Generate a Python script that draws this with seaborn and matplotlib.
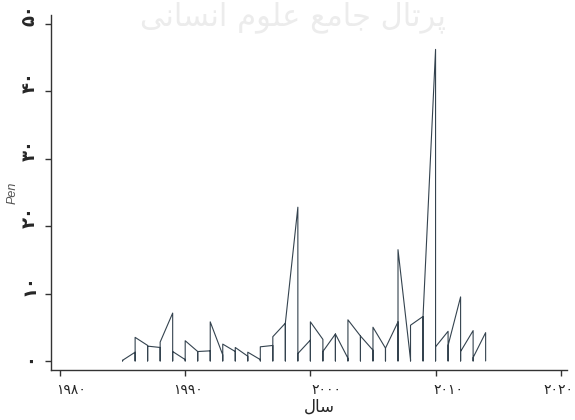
import numpy as np
import pandas as pd
import matplotlib
matplotlib.use('Agg')
import matplotlib.pyplot as plt
import seaborn as sns
from matplotlib.transforms import ScaledTranslation

# values (line passes in -> 0 -> out at each year)
years = list(range(1985, 2015))
pen_in = [0.1, 1.3, 2.3, 2.0, 7.1, 0.2, 1.4, 1.5, 0.9, 1.4, 0.7, 0.2, 2.3, 5.6, 22.8,
          3.1, 3.2, 4.0, 0.4, 3.7, 1.6, 1.9, 5.8, 0.2, 6.6, 46.2, 4.4, 9.5, 4.5, 4.2]
pen_out = [0.1, 3.5, 2.2, 2.8, 1.4, 3.0, 1.4, 5.8, 2.5, 2.0, 1.3, 2.1, 3.6, 5.6, 1.1,
           5.8, 1.4, 4.0, 6.1, 3.7, 5.0, 1.9, 16.5, 5.3, 6.6, 2.1, 2.3, 1.4, 0.5, 0.0]
x_ticks = [1980, 1990, 2000, 2010, 2020]
y_ticks = [0, 10, 20, 30, 40, 50]

# Arabic text in shaped, visual order (matplotlib does no shaping)
x_label = '\uFEDD\uFE8E\uFEB3'  # سال
watermark = 'پرتال جامع علوم انسانی'
wm_shaped = ('\uFB58\uFEAE\uFE97\uFE8E\uFEDD' + ' ' +
             '\uFE9F\uFE8E\uFEE3\uFECA' + ' ' +
             '\uFECB\uFEE0\uFEEE\uFEE1' + ' ' +
             '\uFE8D\uFEE7\uFEB4\uFE8E\uFEE7\uFBFD')[::-1]

fa = str.maketrans('0123456789', '۰۱۲۳۴۵۶۷۸۹')

rows = []
for y, a, b in zip(years, pen_in, pen_out):
    rows += [(y, a), (y, 0.0), (y, b)]
df = pd.DataFrame(rows, columns=['year', 'pen'])

sns.set_style('ticks')
plt.rcParams['font.family'] = ['DejaVu Sans']

fig = plt.figure(figsize=(5.75, 4.2), dpi=100)
ax = fig.add_axes([51 / 575, 50 / 420, 516 / 575, 355 / 420])

# faint scan watermark along the top edge
fig.text(0.51, 1 - 1 / 420, wm_shaped, fontsize=22, color='#ececec',
         ha='center', va='top', zorder=0)

sns.lineplot(data=df, x='year', y='pen', sort=False, estimator=None,
             color='#34434f', linewidth=0.8, ax=ax)

ax.set_xlim(1979.28, 2020.5)
ax.set_ylim(-1.34, 51.3)
ax.patch.set_alpha(0)
for s in ['top', 'right']:
    ax.spines[s].set_visible(False)
for s in ['left', 'bottom']:
    ax.spines[s].set_color('#333333')
    ax.spines[s].set_linewidth(1.0)
ax.tick_params(length=4, width=1, color='#333333')

ax.set_xticks(x_ticks, labels=[str(t).translate(fa) for t in x_ticks], fontsize=10)
ax.set_yticks(y_ticks, labels=[str(t).translate(fa) for t in y_ticks], fontsize=13,
              fontweight='bold', rotation=90, va='bottom')
ax.tick_params(axis='y', pad=5)
ax.tick_params(axis='x', pad=5)
x_shift = [11, 3, 16, 13, -2]
for lab, dx in zip(ax.get_xticklabels(), x_shift):
    lab.set_transform(lab.get_transform() + ScaledTranslation(dx / 100, 0, fig.dpi_scale_trans))
for lab in ax.get_yticklabels():
    lab.set_transform(lab.get_transform() + ScaledTranslation(0, -0.02, fig.dpi_scale_trans))

ax.set_xlabel(x_label, fontsize=12)
ax.xaxis.set_label_coords(0.521, -0.078)
ax.set_ylabel('Pen', fontsize=9, color='#555555', family='Liberation Sans', style='italic')
ax.yaxis.set_label_coords(-0.062, 0.5)

fig.savefig('out.png', dpi=100)
